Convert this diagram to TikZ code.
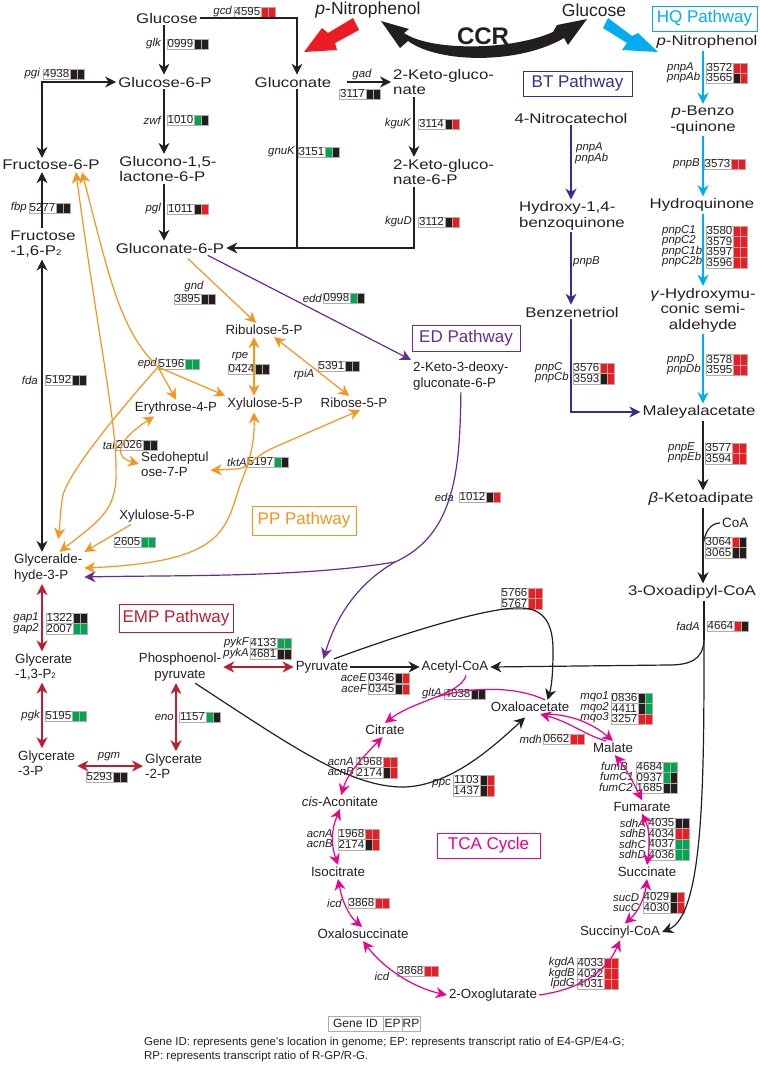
\documentclass[tikz,border=0pt]{standalone}
\usepackage{fontspec}
\setmainfont{Liberation Sans}
\newfontfamily\widefont[FakeStretch=1.2]{Liberation Sans}
\usetikzlibrary{positioning,arrows.meta}

\definecolor{ink}{HTML}{231F20}
\definecolor{upred}{HTML}{ED1C24}
\definecolor{downgreen}{HTML}{00A651}
\definecolor{boxedge}{HTML}{B5ADA5}
\definecolor{hqblue}{HTML}{00AEEF}
\definecolor{btblue}{HTML}{2E3192}
\definecolor{edpurple}{HTML}{662D91}
\definecolor{pporange}{HTML}{F7941D}
\definecolor{empred}{HTML}{BE1E2D}
\definecolor{tcapink}{HTML}{EC008C}

% x, y, gene ID, colour for EP, colour for RP
\newcommand{\genebox}[5]{
  \node[geneid,anchor=west] at (#1,#2) (g#3-#1) {#3};
  \node[cell,fill=#4,right=0pt of g#3-#1] (g#3-#1a) {};
  \node[cell,fill=#5,right=0pt of g#3-#1a] (g#3-#1b) {};
}

\begin{document}
\begin{tikzpicture}[x=1pt,y=-1pt]
\tikzset{
  every node/.style={text=ink},
  >={Stealth[length=11pt,width=11pt,inset=3.5pt]},
  metab/.style={font=\fontsize{13.3}{15.5}\selectfont,inner sep=2pt,align=center},
  metabw/.style={font=\widefont\fontsize{14}{15.5}\selectfont,inner sep=2pt,align=center},
  gene/.style={font=\fontsize{11.4}{11.4}\selectfont\itshape,inner sep=0pt},
  geneid/.style={font=\fontsize{11.5}{11.5}\selectfont,draw=boxedge,fill=white,inner sep=0pt,outer sep=0pt,minimum width=27pt,minimum height=10.5pt},
  cell/.style={draw=boxedge,line width=0.3pt,inner sep=0pt,outer sep=0pt,minimum width=7pt,minimum height=10.5pt},
  pathway/.style={font=\fontsize{17}{17}\selectfont,draw,line width=1pt,inner sep=0pt},
  legendbox/.style={font=\fontsize{12}{12}\selectfont,draw=boxedge,inner sep=0pt,outer sep=0pt,minimum height=15pt},
  blk/.style={draw=ink,line width=1.2pt},
  cyn/.style={draw=hqblue,line width=1.2pt},
  nvy/.style={draw=btblue,line width=1.2pt},
  prp/.style={draw=edpurple,line width=1.2pt},
  org/.style={draw=pporange,line width=1.2pt},
  crm/.style={draw=empred,line width=1.2pt},
  mgt/.style={draw=tcapink,line width=1.2pt}
}
\useasboundingbox (0,0) rectangle (760,1066);

% Columns for the straight lines
\coordinate (colA) at (164,0);
\coordinate (colB) at (297,0);
\coordinate (colC) at (414,0);
\coordinate (colD) at (42,0);
\coordinate (colE) at (571,0);
\coordinate (colF) at (703,0);
\coordinate (colG) at (176,0);
\coordinate (colH) at (254,0);

% Nodes for the top row
\node[font=\fontsize{17.5}{17.5}\selectfont] at (368,10) (TopPNP) {\textit{p}-Nitrophenol};
\node[font=\fontsize{17.5}{17.5}\selectfont] at (594,10) (TopGlc) {Glucose};

% Nodes for pathway names
\node[pathway,draw=hqblue,text=hqblue,minimum width=105pt,minimum height=25pt] at (704.5,18.5) (HQ) {HQ Pathway};
\node[pathway,draw=btblue,text=btblue,minimum width=109pt,minimum height=25pt] at (577.5,83.5) (BT) {BT Pathway};
\node[pathway,draw=edpurple,text=edpurple,minimum width=108pt,minimum height=26pt] at (466,338) (ED) {ED Pathway};
\node[pathway,draw=pporange,text=pporange,minimum width=104pt,minimum height=29pt] at (304,520.5) (PP) {PP Pathway};
\node[pathway,draw=empred,text=empred,minimum width=114pt,minimum height=28pt] at (176,618) (EMP) {EMP Pathway};
\node[pathway,draw=tcapink,text=tcapink,minimum width=103pt,minimum height=25pt] at (488.5,845.5) (TCA) {TCA Cycle};

% Nodes for the left part
\node[metabw] at (167,18) (Glucose) {Glucose};
\node[metabw] at (165,82) (Glucose6P) {Glucose-6-P};
\node[metabw] at (51,165) (Fructose6P) {Fructose-6-P};
\node[metabw,align=left] at (168,169) (Glucono) {Glucono-1,5-\\lactone-6-P};
\node[metabw,align=left] at (43,244) (Fructose16) {Fructose\\-1,6-P{\fontsize{8}{8}\selectfont 2}};
\node[metabw] at (170,248) (Gluconate6P) {Gluconate-6-P};
\node[metabw] at (293,82) (Gluconate) {Gluconate};
\node[metabw,align=left,anchor=west] at (391,82) (Keto) {2-Keto-gluco-\\nate};
\node[metabw,align=left,anchor=west] at (391,172) (Keto6P) {2-Keto-gluco-\\nate-6-P};

% Nodes for the HQ and BT pathways
\node[metabw] at (707,42) (HQpnp) {\textit{p}-Nitrophenol};
\node[metabw] at (703,120) (Benzo) {\textit{p}-Benzo\\-quinone};
\node[metabw] at (702,205) (Hydroquinone) {Hydroquinone};
\node[metabw] at (703,310) (Hydroxymu) {\textit{γ}-Hydroxymu-\\conic semi-\\aldehyde};
\node[metabw] at (699,412) (Maleyl) {Maleyalacetate};
\node[metabw] at (701,499) (Ketoadipate) {\textit{β}-Ketoadipate};
\node[metabw] at (692,592) (Oxo3) {3-Oxoadipyl-CoA};
\node[metab,font=\fontsize{13.5}{13.5}\selectfont,anchor=west] at (720,523) (CoA) {CoA};
\node[metabw] at (571,118) (Nitrocatechol) {4-Nitrocatechol};
\node[metabw,align=left,anchor=west] at (517,216) (HydroxyBQ) {Hydroxy-1,4-\\benzoquinone};
\node[metabw] at (572,312) (Benzenetriol) {Benzenetriol};

% Nodes for the PP and ED pathways
\node[metab] at (264,330) (Ribulose) {Ribulose-5-P};
\node[metab] at (265,404) (Xylulose) {Xylulose-5-P};
\node[metab] at (354,403) (Ribose) {Ribose-5-P};
\node[metab] at (176,408) (Erythrose) {Erythrose-4-P};
\node[metab,align=left,anchor=west] at (139,464) (Sedo) {Sedoheptul\\ose-7-P};
\node[metab] at (157,516) (XyluloseB) {Xylulose-5-P};
\node[metab,align=left,anchor=west] at (411,376) (KDPG) {2-Keto-3-deoxy-\\gluconate-6-P};

% Nodes for the EMP pathway
\node[metab,align=left,anchor=west] at (12,568) (Glyceraldehyde) {Glyceralde-\\hyde-3-P};
\node[metab,align=left,anchor=west] at (13,667) (Gly13) {Glycerate\\-1,3-P{\fontsize{8}{8}\selectfont 2}};
\node[metab,align=left,anchor=west] at (16,763) (Gly3) {Glycerate\\-3-P};
\node[metab,align=left,anchor=west] at (143,766) (Gly2) {Glycerate\\-2-P};
\node[metab] at (180,667) (PEP) {Phosphoenol-\\pyruvate};
\node[metab] at (322,667) (Pyruvate) {Pyruvate};

% Nodes for the TCA cycle
\node[metab] at (455,667) (AcetylCoA) {Acetyl-CoA};
\node[metab] at (530,707) (Oxaloacetate) {Oxaloacetate};
\node[metab] at (385,730) (Citrate) {Citrate};
\node[metab] at (340,802) (cisAco) {\textit{cis}-Aconitate};
\node[metab] at (338,872) (Isocitrate) {Isocitrate};
\node[metab] at (363,934) (Oxalosuccinate) {Oxalosuccinate};
\node[metab] at (493,995) (Oxoglutarate) {2-Oxoglutarate};
\node[metab] at (620,932) (Succinyl) {Succinyl-CoA};
\node[metab] at (647,872) (Succinate) {Succinate};
\node[metab] at (642,807) (Fumarate) {Fumarate};
\node[metab] at (613,748) (Malate) {Malate};

% Gene names
\node[gene,anchor=east] at (232,12) (gcd) {gcd};
\node[gene,anchor=east] at (161,44) (glk) {glk};
\node[gene,anchor=east] at (40,74) (pgi) {pgi};
\node[gene,anchor=east] at (161,120) (zwf) {zwf};
\node[gene,anchor=east] at (27,208) (fbp) {fbp};
\node[gene,anchor=east] at (161,209) (pgl) {pgl};
\node[gene,anchor=east] at (295,152) (gnuK) {gnuK};
\node[gene] at (362,75) (gad) {gad};
\node[gene,anchor=east] at (411,124) (kguK) {kguK};
\node[gene,anchor=east] at (412,222) (kguD) {kguD};
\node[gene,anchor=west] at (576,148) (pnpAbt) {pnpA};
\node[gene,anchor=west] at (575,159) (pnpAbbt) {pnpAb};
\node[gene,anchor=west] at (573,262) (pnpBbt) {pnpB};
\node[gene,anchor=west] at (535,368) (pnpCbt) {pnpC};
\node[gene,anchor=west] at (535,378) (pnpCbbt) {pnpCb};
\node[gene,anchor=west] at (667,68) (pnpA) {pnpA};
\node[gene,anchor=west] at (667,78) (pnpAb) {pnpAb};
\node[gene,anchor=east] at (700,164) (pnpB) {pnpB};
\node[gene,anchor=west] at (662,231) (pnpCa) {pnpC1};
\node[gene,anchor=west] at (662,241) (pnpCc) {pnpC2};
\node[gene,anchor=west] at (662,252) (pnpCab) {pnpC1b};
\node[gene,anchor=west] at (662,262) (pnpCcb) {pnpC2b};
\node[gene,anchor=west] at (667,360) (pnpD) {pnpD};
\node[gene,anchor=west] at (667,370) (pnpDb) {pnpDb};
\node[gene,anchor=west] at (668,448) (pnpE) {pnpE};
\node[gene,anchor=west] at (668,458) (pnpEb) {pnpEb};
\node[gene,anchor=east] at (700,626) (fadA) {fadA};
\node[gene,anchor=east] at (454,497) (eda) {eda};
\node[gene] at (194,287) (gnd) {gnd};
\node[gene,anchor=east] at (322,298) (edd) {edd};
\node[gene] at (240,357) (rpe) {rpe};
\node[gene] at (304,375) (rpiA) {rpiA};
\node[gene,anchor=east] at (157,364) (epd) {epd};
\node[gene,anchor=east] at (115,445) (tal) {tal};
\node[gene,anchor=east] at (247,462) (tktA) {tktA};
\node[gene,anchor=east] at (38,380) (fda) {fda};
\node[gene,anchor=east] at (39,618) (gapa) {gap1};
\node[gene,anchor=east] at (39,629) (gapb) {gap2};
\node[gene,anchor=east] at (40,716) (pgk) {pgk};
\node[gene] at (109,757) (pgm) {pgm};
\node[gene,anchor=east] at (174,717) (eno) {eno};
\node[gene,anchor=east] at (249,643) (pykF) {pykF};
\node[gene,anchor=east] at (249,654) (pykA) {pykA};
\node[gene,anchor=east] at (367,678) (aceE) {aceE};
\node[gene,anchor=east] at (367,689) (aceF) {aceF};
\node[gene,anchor=east] at (442,694) (gltA) {gltA};
\node[gene,anchor=east] at (354,762) (acnAa) {acnA};
\node[gene,anchor=east] at (354,772) (acnBa) {acnB};
\node[gene,anchor=east] at (333,834) (acnAb) {acnA};
\node[gene,anchor=east] at (333,844) (acnBb) {acnB};
\node[gene,anchor=east] at (542,739) (mdh) {mdh};
\node[gene,anchor=east] at (609,697) (mqoa) {mqo1};
\node[gene,anchor=east] at (609,708) (mqob) {mqo2};
\node[gene,anchor=east] at (609,718) (mqoc) {mqo3};
\node[gene,anchor=east] at (451,784) (ppc) {ppc};
\node[gene,anchor=west] at (601,766) (fumB) {fumB};
\node[gene,anchor=west] at (600,776.5) (fumCa) {fumC1};
\node[gene,anchor=west] at (599,787.5) (fumCb) {fumC2};
\node[gene,anchor=east] at (646,823) (sdhA) {sdhA};
\node[gene,anchor=east] at (646,833) (sdhB) {sdhB};
\node[gene,anchor=east] at (646,844) (sdhC) {sdhC};
\node[gene,anchor=east] at (646,854) (sdhD) {sdhD};
\node[gene,anchor=west] at (613,898) (sucD) {sucD};
\node[gene,anchor=west] at (613,908) (sucC) {sucC};
\node[gene,anchor=east] at (342,903) (icda) {icd};
\node[gene] at (382,976) (icdb) {icd};
\node[gene,anchor=east] at (575,963) (kgdA) {kgdA};
\node[gene,anchor=east] at (575,974) (kgdB) {kgdB};
\node[gene,anchor=east] at (575,984) (lpdG) {lpdG};

% Gene boxes, left part
\genebox{234}{12}{4595}{upred}{upred}
\genebox{167}{44}{0999}{ink}{ink}
\genebox{43}{74}{4938}{ink}{ink}
\genebox{167}{120}{1010}{downgreen}{ink}
\genebox{29}{208}{5277}{ink}{ink}
\genebox{167}{209}{1011}{ink}{upred}
\genebox{298}{152}{3151}{downgreen}{ink}
\genebox{339}{94}{3117}{ink}{ink}
\genebox{418}{124}{3114}{ink}{upred}
\genebox{418}{222}{3112}{ink}{upred}

% Gene boxes, HQ and BT pathways
\genebox{706}{68}{3572}{upred}{upred}
\genebox{706}{78}{3565}{ink}{upred}
\genebox{704}{164}{3573}{upred}{upred}
\genebox{706}{231}{3580}{upred}{upred}
\genebox{706}{241.5}{3579}{upred}{upred}
\genebox{706}{252}{3597}{upred}{upred}
\genebox{706}{262.5}{3596}{upred}{upred}
\genebox{706}{359.5}{3578}{upred}{upred}
\genebox{706}{370}{3595}{upred}{upred}
\genebox{573}{368}{3576}{upred}{upred}
\genebox{573}{378.5}{3593}{ink}{upred}
\genebox{705}{448}{3577}{upred}{upred}
\genebox{705}{458.5}{3594}{upred}{upred}
\genebox{705}{542}{3064}{upred}{ink}
\genebox{705}{552.5}{3065}{ink}{ink}
\genebox{707}{626}{4664}{upred}{ink}

% Gene boxes, PP and ED pathways
\genebox{459}{497}{1012}{ink}{upred}
\genebox{174}{299}{3895}{ink}{ink}
\genebox{323}{298}{0998}{downgreen}{ink}
\genebox{228}{369}{0424}{ink}{ink}
\genebox{318}{366}{5391}{ink}{ink}
\genebox{158}{364}{5196}{downgreen}{downgreen}
\genebox{116}{445}{2026}{ink}{ink}
\genebox{247}{462}{5197}{downgreen}{ink}
\genebox{45}{380}{5192}{ink}{ink}
\genebox{114}{542}{2605}{downgreen}{downgreen}

% Gene boxes, EMP pathway
\genebox{46}{618}{1322}{ink}{ink}
\genebox{46}{628.5}{2007}{downgreen}{downgreen}
\genebox{45}{716}{5195}{downgreen}{downgreen}
\genebox{86}{777}{5293}{ink}{ink}
\genebox{179}{717}{1157}{downgreen}{ink}
\genebox{250}{643}{4133}{downgreen}{downgreen}
\genebox{250}{654}{4681}{ink}{ink}

% Gene boxes, TCA cycle
\genebox{501}{593}{5766}{upred}{upred}
\genebox{501}{603.5}{5767}{upred}{upred}
\genebox{368}{678}{0346}{ink}{upred}
\genebox{368}{689}{0345}{ink}{upred}
\genebox{444}{694}{4038}{ink}{ink}
\genebox{356}{762}{1968}{upred}{upred}
\genebox{356}{772.5}{2174}{ink}{upred}
\genebox{338}{834}{1968}{upred}{upred}
\genebox{338}{844.5}{2174}{ink}{upred}
\genebox{543}{739}{0662}{upred}{upred}
\genebox{611}{698}{0836}{ink}{downgreen}
\genebox{611}{708.5}{4411}{ink}{downgreen}
\genebox{611}{719}{3257}{upred}{upred}
\genebox{453}{780}{1103}{ink}{upred}
\genebox{453}{790.5}{1437}{ink}{upred}
\genebox{636}{767}{4684}{downgreen}{downgreen}
\genebox{636}{777.5}{0937}{downgreen}{ink}
\genebox{636}{788}{1685}{ink}{ink}
\genebox{648}{823}{4035}{ink}{ink}
\genebox{648}{833.5}{4034}{upred}{upred}
\genebox{648}{844}{4037}{downgreen}{downgreen}
\genebox{648}{854.5}{4036}{downgreen}{downgreen}
\genebox{643}{897}{4029}{ink}{upred}
\genebox{643}{907.5}{4030}{ink}{upred}
\genebox{348}{903}{3868}{upred}{upred}
\genebox{397}{971}{3868}{upred}{upred}
\genebox{577}{963}{4033}{upred}{upred}
\genebox{577}{973.5}{4032}{upred}{upred}
\genebox{577}{984}{4031}{upred}{upred}

% Block arrows and CCR
\fill[upred] (304,52) -- (322,28) -- (328,33) -- (353,18) -- (359,30) -- (335,43) -- (337,50) -- cycle;
\fill[hqblue] (658,52) -- (638,33) -- (632,36) -- (608,18) -- (603,28) -- (627,43) -- (622,50) -- cycle;
\fill[ink] (381,21) -- (409,29) -- (404,33) .. controls (430,51) and (510,51) .. (553,32) -- (557,25) -- (587,19) -- (568,45) -- (564,38) .. controls (520,64) and (440,64) .. (408,41) -- (400,48) -- cycle;
\node[font=\fontsize{24}{24}\selectfont\bfseries] at (483,36) (CCR) {CCR};

% Lines for the left part
\draw[blk,->] (Glucose.south -| colA) -- (Glucose6P.north -| colA);
\draw[blk,->] (Glucose6P.south -| colA) -- (Glucono.north -| colA);
\draw[blk,->] (Glucono.south -| colA) -- (Gluconate6P.north -| colA);
\draw[blk,->] (Glucose.east) -| (Gluconate.north -| colB);
\draw[blk] (Gluconate.south -| colB) -- (Gluconate6P.east -| colB);
\draw[blk,->,shorten <=14pt] (Gluconate.east) -- (Keto.west);
\draw[blk,->] (Keto.south -| colC) -- (Keto6P.north -| colC);
\draw[blk,->] (Keto6P.south -| colC) |- (Gluconate6P.east);
\draw[blk,<->] (Fructose6P.north -| colD) |- (Glucose6P.west);
\draw[blk,->] (Fructose16.north -| colD) -- (Fructose6P.south -| colD);
\draw[blk,<->] (Fructose16.south -| colD) -- (Glyceraldehyde.north -| colD);

% Lines for the HQ pathway
\draw[cyn,->] (HQpnp.south -| colF) -- (Benzo.north -| colF);
\draw[cyn,->] (Benzo.south -| colF) -- (Hydroquinone.north -| colF);
\draw[cyn,->] (Hydroquinone.south -| colF) -- (Hydroxymu.north -| colF);
\draw[cyn,->] (Hydroxymu.south -| colF) -- (Maleyl.north -| colF);
\draw[blk,->] (Maleyl.south -| colF) -- (Ketoadipate.north -| colF);
\draw[blk,->] (Ketoadipate.south -| colF) -- (Oxo3.north -| colF);
\coordinate (CoAjoin) at (703,548);
\draw[blk] (CoA.west) .. controls (712,523) and (704,530) .. (CoAjoin);

% Lines for the BT pathway
\draw[nvy,->] (Nitrocatechol.south -| colE) -- (HydroxyBQ.north -| colE);
\draw[nvy,->] (HydroxyBQ.south -| colE) -- (Benzenetriol.north -| colE);
\draw[nvy,->] (Benzenetriol.south -| colE) |- (Maleyl.west);

% Lines for the ED pathway
\coordinate (edasplit) at (395,562);
\draw[prp,->] (Gluconate6P.-11.5) -- (KDPG.north west);
\draw[prp,->] (KDPG.south) .. controls (460,470) and (455,535) .. (edasplit) .. controls (300,578) and (170,575) .. (Glyceraldehyde.-14);
\draw[prp,->] (edasplit) .. controls (355,585) and (335,620) .. (Pyruvate.80);

% Lines for the PP pathway
\coordinate (epdjoin) at (158,367);
\draw[org,->,shorten <=5pt] (Gluconate6P.-27) -- (Ribulose.138);
\draw[org,<->] (Fructose6P.-16) .. controls (97,330) and (116,420) .. (116,467) .. controls (118,510) and (100,520) .. (Glyceraldehyde.55);
\draw[org,<->] (Fructose6P.-13) .. controls (110,280) and (120,330) .. (epdjoin) -- (Xylulose.north west);
\draw[org,->] (epdjoin) -- (Erythrose.north);
\draw[org,->,shorten >=13pt] (epdjoin) .. controls (120,410) and (70,470) .. (63,495) .. controls (60,510) and (60,525) .. (Glyceraldehyde.62);
\draw[org,<->] (Erythrose.-159) .. controls (125,435) and (108,455) .. (Sedo.west);
\draw[org,<->] (Xylulose.-143) .. controls (255,445) and (248,465) .. (240,485) .. controls (225,530) and (225,562) .. (Glyceraldehyde.east);
\draw[org,<->] (Sedo.-10) -- (235,469) .. controls (250,469) and (250,458) .. (275,447) -- (Ribose.-50);
\draw[org,<->] (Ribulose.south -| colH) -- (Xylulose.north -| colH);
\draw[org,<->] (Ribulose.-35) -- (Ribose.124);
\draw[org,->] (XyluloseB.-162) -- (Glyceraldehyde.north east);

% Lines for the EMP pathway
\draw[crm,<->] (Glyceraldehyde.south -| colD) -- (Gly13.north -| colD);
\draw[crm,<->] (Gly13.south -| colD) -- (Gly3.north -| colD);
\draw[crm,<->] (Gly3.east |- Gly2.west) -- (Gly2.west);
\draw[crm,<->] (Gly2.north -| colG) -- (PEP.south -| colG);
\draw[crm,<->] (PEP.east) -- (Pyruvate.west);

% Lines into the TCA cycle
\coordinate (fadAjoin) at (704,640);
\draw[blk,->] (Pyruvate.east) -- (AcetylCoA.west);
\draw[blk] (Oxo3.south -| fadAjoin) -- (fadAjoin);
\draw[blk,->] (fadAjoin) .. controls (703,660) and (690,665) .. (668,665) -- (AcetylCoA.east);
\draw[blk,->] (fadAjoin) .. controls (704,780) and (704,915) .. (Succinyl.east);
\draw[blk,->] (Pyruvate.34) .. controls (440,620) and (500,607) .. (520,608) .. controls (545,608) and (553,625) .. (553,650) .. controls (553,670) and (552,685) .. (Oxaloacetate.22);
\draw[blk,->,shorten >=5pt] (PEP.-47) .. controls (290,745) and (350,788) .. (405,787) .. controls (450,785) and (490,750) .. (Oxaloacetate.-100);

% Lines for the TCA cycle
\coordinate (gltAjoin) at (436,697);
\draw[mgt,->] (AcetylCoA.-37) .. controls (460,695) and (415,700) .. (Citrate.north);
\draw[mgt] (Oxaloacetate.25) .. controls (520,688) and (480,685) .. (gltAjoin);
\draw[mgt,<->] (Citrate.-110) .. controls (360,760) and (347,775) .. (cisAco.80);
\draw[mgt,<->] (cisAco.south) .. controls (331,830) and (331,845) .. (Isocitrate.north);
\draw[mgt,<->] (Isocitrate.south) .. controls (342,900) and (348,915) .. (Oxalosuccinate.97);
\draw[mgt,<->] (Oxalosuccinate.south) .. controls (385,970) and (415,988) .. (Oxoglutarate.west);
\draw[mgt,->] (Oxoglutarate.east) .. controls (575,990) and (605,975) .. (Succinyl.south);
\draw[mgt,<->] (Fumarate.south) .. controls (650,830) and (650,845) .. (Succinate.north);
\draw[mgt,<->] (Succinate.south) .. controls (645,895) and (640,910) .. (Succinyl.60);
\draw[mgt,<->] (Fumarate.north) .. controls (632,780) and (627,770) .. (Malate.-75);
\draw[mgt,->] (Oxaloacetate.-22) .. controls (580,715) and (600,730) .. (Malate.north);
\draw[mgt,->] (Malate.135) .. controls (585,735) and (570,722) .. (Oxaloacetate.-35);

% Legend and note
\node[legendbox,minimum width=55pt,anchor=west] at (328,1023.5) (LegendID) {Gene ID};
\node[legendbox,minimum width=19pt,right=0pt of LegendID] (LegendEP) {EP};
\node[legendbox,minimum width=18pt,right=0pt of LegendEP] (LegendRP) {RP};
\node[font=\fontsize{11.45}{14}\selectfont,align=left,inner sep=0pt,anchor=west] at (144,1050) (Note) {Gene ID: represents gene’s location in genome; EP: represents transcript ratio of E4-GP/E4-G;\\RP: represents transcript ratio of R-GP/R-G.};
\end{tikzpicture}
\end{document}
